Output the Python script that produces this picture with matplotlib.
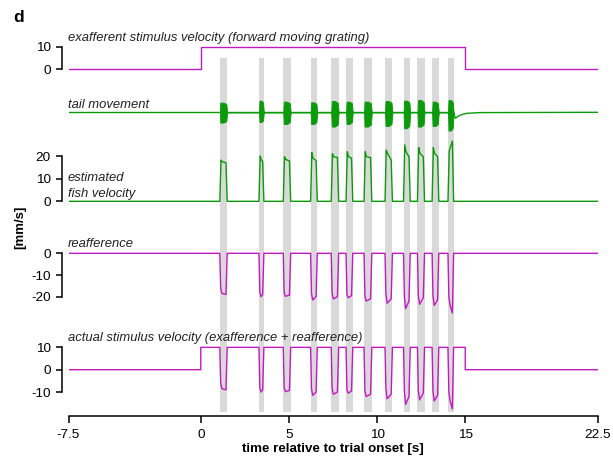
import numpy as np
import matplotlib
matplotlib.use('Agg')
import matplotlib.pyplot as plt

plt.rcParams['font.family'] = ['Liberation Sans', 'DejaVu Sans']
plt.rcParams['axes.unicode_minus'] = False

# bout timing (s)
bout_on = [1.08, 3.30, 4.68, 6.23, 7.40, 8.24, 9.26, 10.45, 11.50, 12.29, 13.12, 14.02]
bout_off = [1.50, 3.58, 5.10, 6.61, 7.82, 8.62, 9.70, 10.87, 11.88, 12.69, 13.50, 14.34]

# estimated fish velocity (mm/s): peak after rise, early plateau, before fall
vel_pk = [18.2, 20.0, 19.7, 21.5, 21.0, 21.9, 21.9, 22.6, 24.9, 23.7, 23.7, 22.0]
vel_p1 = [17.5, 18.2, 18.5, 19.0, 19.6, 19.7, 19.7, 21.2, 21.9, 21.2, 21.2, 24.0]
vel_p2 = [17.0, 17.5, 17.8, 18.0, 19.4, 19.0, 19.3, 18.2, 19.7, 19.7, 19.7, 26.6]

# reafference (mm/s): after drop, deepest, before return
reaf_r1 = [-16.0, -18.0, -18.0, -18.5, -18.5, -19.0, -19.5, -18.5, -20.0, -19.5, -19.5, -20.0]
reaf_r2 = [-18.5, -20.0, -19.8, -21.5, -21.0, -20.5, -22.0, -23.0, -25.5, -23.5, -24.0, -24.0]
reaf_r3 = [-19.0, -19.0, -19.3, -20.0, -20.0, -19.5, -21.0, -21.0, -22.0, -20.5, -21.5, -27.5]

# tail movement envelope (a.u.) up / down per bout
tail_up = [9.7, 11.7, 10.7, 10.0, 11.3, 10.7, 10.7, 11.3, 11.7, 12.3, 10.7, 12.3]
tail_down = [10.3, 9.7, 11.7, 11.7, 14.3, 11.7, 14.3, 13.7, 16.0, 14.3, 13.7, 18.3]
# tail trace after last bout
tail_after_t = [14.43, 14.72, 15.1, 15.85]
tail_after_v = [-6.0, -2.7, -1.0, -0.3]

# exafferent stimulus (step)
exaf_t = [-7.5, 0, 15, 22.5]
exaf_v = [0, 10, 0, 0]

xticks = [-7.5, 0, 5, 10, 15, 22.5]
xticklabels = ['-7.5', '0', '5', '10', '15', '22.5']

MAG = '#c21ac2'
GRN = '#0a9a0a'
GREY = '#d9d9d9'

W, H = 613, 458
XL, XR = 68.5, 597.5


def box(top, bottom):
    return [XL / W, 1 - bottom / H, (XR - XL) / W, (bottom - top) / H]


fig = plt.figure(figsize=(W / 100, H / 100), dpi=100)

# background axes: grey bars + time axis
bg = fig.add_axes(box(58.3, 416.0))
bg.set_xlim(-7.5, 22.5)
bg.set_ylim(0, 1)
for on, off in zip(bout_on, bout_off):
    bg.axvspan(on, off, ymin=0.01, ymax=1, color=GREY, lw=0)
for s in ['top', 'right', 'left']:
    bg.spines[s].set_visible(False)
bg.spines['bottom'].set_linewidth(1.1)
bg.spines['bottom'].set_bounds(-7.5, 22.5)
bg.set_yticks([])
bg.set_xticks(xticks)
bg.set_xticklabels(xticklabels, fontsize=9.7)
bg.tick_params(axis='x', direction='out', length=5, width=1.1, pad=4)
bg.set_xlabel('time relative to trial onset [s]', fontsize=9.6, fontweight='bold', labelpad=1.5)
bg.patch.set_visible(False)


def panel(y0, s, lo, hi, ticks=None):
    ax = fig.add_axes(box(y0 - hi * s, y0 - lo * s))
    ax.set_xlim(-7.5, 22.5)
    ax.set_ylim(lo, hi)
    ax.patch.set_visible(False)
    for sp in ['top', 'right', 'bottom']:
        ax.spines[sp].set_visible(False)
    ax.set_xticks([])
    if ticks is None:
        ax.spines['left'].set_visible(False)
        ax.set_yticks([])
    else:
        ax.spines['left'].set_position(('outward', 5))
        ax.spines['left'].set_bounds(min(ticks), max(ticks))
        ax.spines['left'].set_linewidth(1.1)
        ax.set_yticks(ticks)
        ax.tick_params(axis='y', direction='out', length=4.5, width=1.1, labelsize=9.7, pad=3.3)
    return ax


# build trace vertices from the bout values
tb, vb, rb = [], [], []
tr = []
tt, up, dn = [], [], []
for i, (on, off) in enumerate(zip(bout_on, bout_off)):
    tb += [on, on + 0.07, on + 0.14, off - 0.07, off]
    vb += [0, vel_pk[i], vel_p1[i], vel_p2[i], 0]
    tr += [on, on + 0.05, on + 0.12, off - 0.07, off]
    rb += [0, reaf_r1[i], reaf_r2[i], reaf_r3[i], 0]
    u, d = tail_up[i], tail_down[i]
    tt += [on, on + 0.03, (on + off) / 2, off - 0.05, off]
    up += [0, u, u, 0.85 * u, 0]
    dn += [0, -d, -d, -0.85 * d, 0]
tr = np.array(tr)
rb = np.array(rb)

vel_t = np.r_[-7.5, tb, 22.5]
vel = np.r_[0, vb, 0]
reaf_t = np.r_[-7.5, tr, 22.5]
reaf = np.r_[0, rb, 0]
act_t = np.r_[-7.5, 0, 0, tr, 15, 15, 22.5]
act = np.r_[0, 0, 10, 10 + rb, 10, 0, 0]

lw = 1.0
txt = dict(fontsize=9.4, style='italic', color='#222222')

# exafference
ax1 = panel(69.0, 2.23, -3, 12, [0, 10])
ax1.plot(exaf_t, exaf_v, drawstyle='steps-post', color=MAG, lw=lw)

# tail movement
ax2 = panel(112.3, 1.0, -22, 22)
ax2.fill_between(tt, dn, up, color=GRN, lw=0.6, edgecolor=GRN)
ax2.plot([-7.5, bout_on[0]], [0, 0], color=GRN, lw=lw)
for i in range(len(bout_on) - 1):
    ax2.plot([bout_off[i], bout_on[i + 1]], [0, 0], color=GRN, lw=lw)
ax2.plot(np.r_[bout_off[-1], tail_after_t, 22.5], np.r_[0, tail_after_v, 0], color=GRN, lw=lw)

# fish velocity
ax3 = panel(201.3, 2.265, -2, 29, [0, 10, 20])
ax3.plot(vel_t, vel, color=GRN, lw=lw)

# reafference
ax4 = panel(253.3, 2.17, -29, 2, [-20, -10, 0])
ax4.plot(reaf_t, reaf, color=MAG, lw=lw)

# actual stimulus
ax5 = panel(369.7, 2.235, -19, 12, [-10, 0, 10])
ax5.plot(act_t, act, color=MAG, lw=lw)


def ftxt(x, y, s, **kw):
    fig.text(x / W, 1 - y / H, s, **kw)


ftxt(68, 40.5, 'exafferent stimulus velocity (forward moving grating)', va='baseline', **txt)
ftxt(68, 108, 'tail movement', va='baseline', **txt)
ftxt(68, 181, 'estimated', va='baseline', **txt)
ftxt(68, 196.5, 'fish velocity', va='baseline', **txt)
ftxt(68, 247.5, 'reafference', va='baseline', **txt)
ftxt(68, 341, 'actual stimulus velocity (exafference + reafference)', va='baseline', **txt)
ftxt(13, 22.5, 'd', va='baseline', fontsize=12.5, fontweight='bold')
ftxt(20, 227, '[mm/s]', va='center', ha='center', rotation=90, fontsize=9.5, fontweight='bold')

fig.savefig('out.png', dpi=100)
